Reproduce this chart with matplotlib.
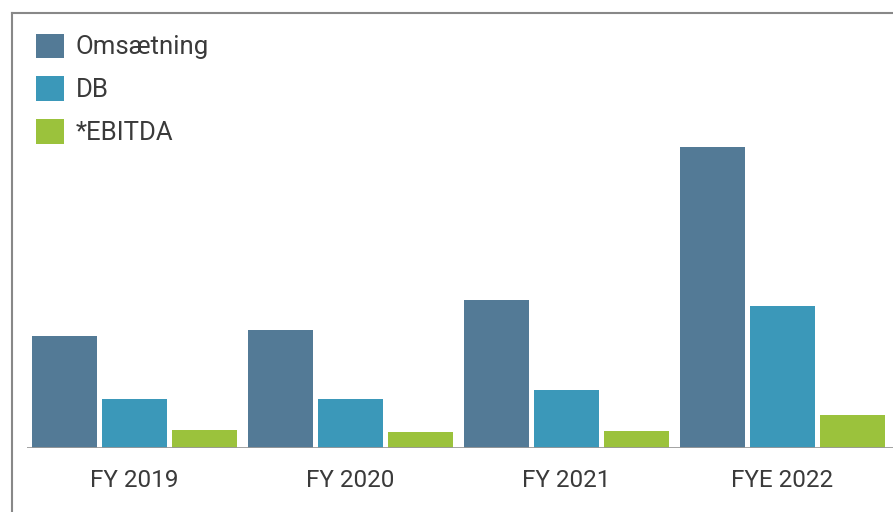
import numpy as np
import matplotlib.pyplot as plt
from matplotlib.lines import Line2D

# data
perioder = ['FY 2019', 'FY 2020', 'FY 2021', 'FYE 2022']
omsaetning = [112, 118, 148, 301]
db = [49, 49, 58, 142]
ebitda = [18, 16, 17, 33]

serier = ['Omsætning', 'DB', '*EBITDA']
farver = ['#537a96', '#3b98b9', '#9bc23c']

plt.rcParams['font.family'] = ['Roboto', 'DejaVu Sans']

fig = plt.figure(figsize=(8.93, 5.12), dpi=100)
ax = fig.add_axes([27 / 893, 64 / 512, 1 - 27 / 893, (448 - 13) / 512])

x = np.arange(len(perioder))
ancho = 0.30
paso = 0.324
for i, (valores, nombre, color) in enumerate(zip([omsaetning, db, ebitda], serier, farver)):
    ax.bar(x + (i - 1) * paso, valores, ancho, color=color, label=nombre, zorder=2)

ax.set_xlim(-0.498, 3.512)
ax.set_ylim(0, 435)
ax.axhline(0, color='#999999', lw=2, zorder=3)
for s in ax.spines.values():
    s.set_visible(False)
ax.set_yticks([])
ax.set_xticks(x)
ax.set_xticklabels(perioder, fontsize=17.5, color='#3a3a3a')
ax.tick_params(axis='x', length=0, pad=15)

leg = ax.legend(loc='upper left', bbox_to_anchor=(-0.016, 1.006), frameon=False,
                handlelength=1.08, handleheight=1.08, handletextpad=0.45,
                labelspacing=0.66, prop={'size': 18.5})
for t in leg.get_texts():
    t.set_color('#3a3a3a')

# ramme top og venstre
fig.add_artist(Line2D([12 / 893, 1], [1 - 13 / 512, 1 - 13 / 512], color='#888888', lw=1.5))
fig.add_artist(Line2D([12 / 893, 12 / 893], [0, 1 - 13 / 512], color='#888888', lw=1.5))

fig.savefig('out.png', dpi=100)
